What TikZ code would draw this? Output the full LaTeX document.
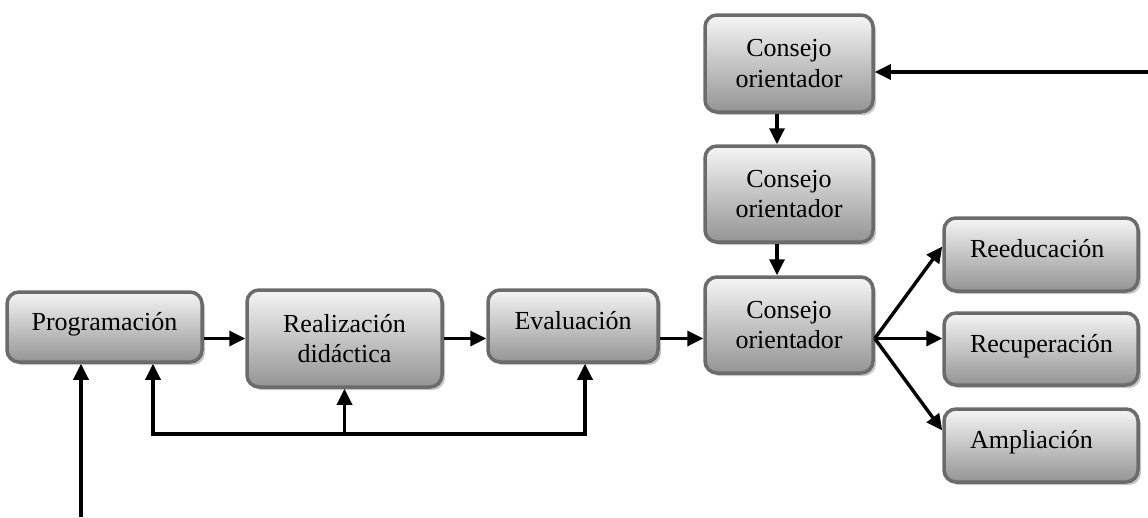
\documentclass[tikz,border=0pt]{standalone}
\usepackage{fontspec}
\setmainfont{Liberation Serif}
\usetikzlibrary{arrows.meta,shadows}
\tikzset{
  box/.style={draw=black!58, line width=3.5pt, rounded corners=12pt,
    top color=black!4, bottom color=black!42,
    drop shadow={shadow xshift=3pt, shadow yshift=-3pt, fill=black!22, opacity=1},
    font=\fontsize{26}{30.5}\selectfont, inner sep=0pt},
  one/.style={text height=17pt, text depth=11pt},
  two/.style={align=center},
  leftbox/.style={one, align=left, text width=142pt, inner xsep=26pt},
  arr/.style={line width=3.4pt, -{Triangle[length=16pt,width=15pt]}, line join=miter},
  darr/.style={line width=3.4pt, {Triangle[length=16pt,width=15pt]}-{Triangle[length=16pt,width=15pt]}, line join=miter}
}
\begin{document}
\begin{tikzpicture}[x=1pt,y=-1pt]
\useasboundingbox (0,0) rectangle (1148,517);
\node[box,one,minimum width=195pt,minimum height=70pt] (prog) at (104.5,327) {Programación};
\node[box,two,minimum width=195pt,minimum height=97pt] (real) at (344.5,338.5) {Realización\\didáctica};
\node[box,one,minimum width=170pt,minimum height=72pt] (eval) at (573,326) {Evaluación};
\node[box,two,minimum width=168pt,minimum height=97pt] (c1) at (789,63.5) {Consejo\\orientador};
\node[box,two,minimum width=168pt,minimum height=96pt] (c2) at (789,194) {Consejo\\orientador};
\node[box,two,minimum width=168pt,minimum height=96pt] (c3) at (789,325) {Consejo\\orientador};
\node[box,leftbox,minimum height=73pt] (reed) at (1041,254.5) {Reeducación};
\node[box,leftbox,minimum height=72pt] (recu) at (1041,349) {Recuperación};
\node[box,leftbox,minimum height=73pt] (ampl) at (1041,445.5) {Ampliación};

\coordinate (mid) at (0,338.5);
\coordinate (rin) at (1148,72);
\coordinate (bin) at (81,517);
\coordinate (fbl) at (153,434);
\coordinate (fbr) at (585,434);

\draw[arr] (rin) -- (c1.east |- rin);
\draw[arr] ([xshift=-12pt]c1.south) -- ([xshift=-12pt]c2.north);
\draw[arr] ([xshift=-12pt]c2.south) -- ([xshift=-12pt]c3.north);
\draw[arr] (prog.east |- mid) -- (real.west |- mid);
\draw[arr] (real.east |- mid) -- (eval.west |- mid);
\draw[arr] (eval.east |- mid) -- (c3.west |- mid);
\draw[arr] (c3.east |- mid) -- ([yshift=8pt]reed.west);
\draw[arr] (c3.east |- mid) -- (recu.west |- mid);
\draw[arr] (c3.east |- mid) -- ([yshift=15pt]ampl.west);
\draw[darr] (fbl |- prog.south) -- (fbl) -- (fbr) -- (fbr |- eval.south);
\draw[arr] (real.south |- fbl) -- (real.south);
\draw[arr] (bin) -- (bin |- prog.south);
\end{tikzpicture}
\end{document}
